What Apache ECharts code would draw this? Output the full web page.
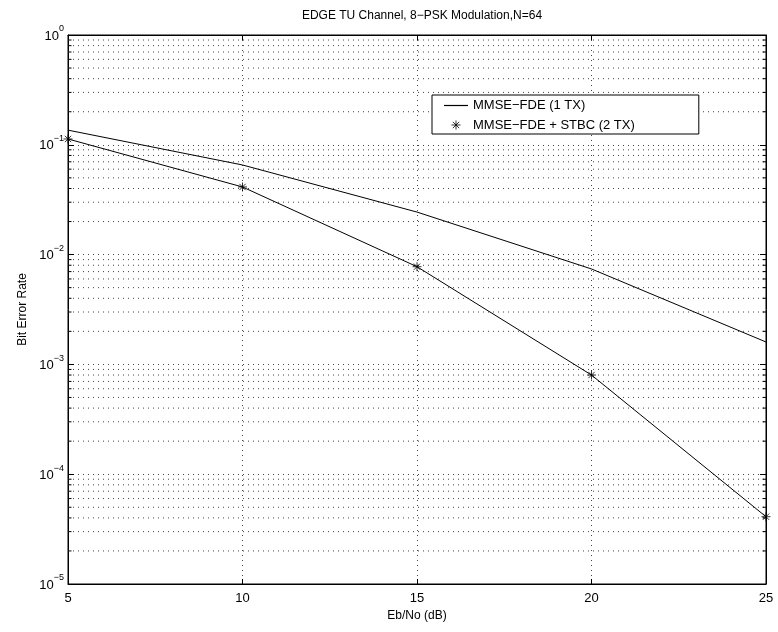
<!DOCTYPE html>
<html><head><meta charset="utf-8">
<script src="https://cdn.jsdelivr.net/npm/echarts@6/dist/echarts.min.js"></script>
<style>html,body{margin:0;padding:0;background:#fff}#c{width:778px;height:632px}</style>
</head><body><div id="c"></div>
<script>
const ebno = [5, 10, 15, 20, 25];
const berFde = [0.136, 0.0655, 0.0244, 0.0074, 0.0016];
const berStbc = [0.113, 0.0413, 0.00776, 0.0008, 4.1e-5];
const decades = [1e-5, 1e-4, 1e-3, 1e-2, 1e-1];
const minorMultipliers = [2, 3, 4, 5, 6, 7, 8, 9];
const xRange = [5, 25];
const minorTickLen = 0.1;
const minorGrid = [];
for (const d of decades) for (const m of minorMultipliers) minorGrid.push(+(d * m).toPrecision(3));

const FONT = 'Liberation Sans';
const dotted = {color: '#444', width: 1, type: [1, 4]};
const solid = {color: '#000', width: 1};
const star = 'path://M0,-5L0,5M-5,0L5,0M-3.5,-3.5L3.5,3.5M-3.5,3.5L3.5,-3.5';

const decor = [];
for (const v of minorGrid) {
  decor.push({type: 'line', silent: true, symbol: 'none', z: 1,
    data: [[xRange[0], v], [xRange[1], v]], lineStyle: dotted});
  decor.push({type: 'line', silent: true, symbol: 'none', z: 2,
    data: [[xRange[0], v], [xRange[0] + minorTickLen, v]], lineStyle: solid});
  decor.push({type: 'line', silent: true, symbol: 'none', z: 2,
    data: [[xRange[1] - minorTickLen, v], [xRange[1], v]], lineStyle: solid});
}

const chart = echarts.init(document.getElementById('c'), null, {renderer: 'canvas'});
chart.setOption({
  animation: false,
  backgroundColor: '#fff',
  textStyle: {fontFamily: FONT},
  title: {text: 'EDGE TU Channel, 8−PSK Modulation,N=64', left: 417, textAlign: 'center', top: 5,
    textStyle: {fontFamily: FONT, fontSize: 12, fontWeight: 'normal', color: '#000'}},
  grid: {left: 68, right: 12, top: 35, bottom: 48, containLabel: false,
    show: true, borderColor: '#000', borderWidth: 1},
  legend: {
    left: 432, top: 95, width: 266, orient: 'vertical', itemGap: 6,
    padding: [4, 64, 2, 12], borderColor: '#000', borderWidth: 1, backgroundColor: '#fff',
    itemWidth: 24, itemHeight: 9,
    textStyle: {fontFamily: FONT, fontSize: 13, color: '#000'},
    data: [
      {name: 'MMSE−FDE (1 TX)', icon: 'path://M0,0L40,0L40,2L0,2Z', itemStyle: {color: '#000'}},
      {name: 'MMSE−FDE + STBC (2 TX)', icon: star,
       itemStyle: {color: 'none', borderColor: '#000', borderWidth: 1}}
    ]
  },
  xAxis: [{
    type: 'value', min: 5, max: 25, interval: 5, position: 'bottom',
    name: 'Eb/No (dB)', nameLocation: 'middle', nameGap: 22,
    nameTextStyle: {fontFamily: FONT, fontSize: 12, color: '#000'},
    axisLine: {show: true, lineStyle: {color: '#000'}},
    axisTick: {show: true, inside: true, length: 5, lineStyle: {color: '#000'}},
    axisLabel: {fontFamily: FONT, fontSize: 13, color: '#000', margin: 8},
    splitLine: {show: true, lineStyle: dotted}
  }, {
    type: 'value', min: 5, max: 25, interval: 5, position: 'top',
    axisLine: {show: true, lineStyle: {color: '#000'}},
    axisTick: {show: true, inside: true, length: 5, lineStyle: {color: '#000'}},
    axisLabel: {show: false}, splitLine: {show: false}
  }],
  yAxis: [{
    type: 'log', logBase: 10, min: 1e-5, max: 1, position: 'left',
    name: 'Bit Error Rate', nameLocation: 'middle', nameGap: 30, nameRotate: 90,
    nameTextStyle: {fontFamily: FONT, fontSize: 12, color: '#000'},
    axisLine: {show: true, lineStyle: {color: '#000'}},
    axisTick: {show: true, inside: true, length: 6, lineStyle: {color: '#000'}},
    axisLabel: {
      margin: 4, color: '#000',
      formatter: v => { const e = Math.round(Math.log10(v)); return '{b|10}{s|' + (e === 0 ? '0' : '−' + (-e)) + '}'; },
      rich: {b: {fontFamily: FONT, fontSize: 13, color: '#000', padding: [2, 0, 0, 0]},
             s: {fontFamily: FONT, fontSize: 9, color: '#000', padding: [0, 0, 12, 0]}}
    },
    splitLine: {show: true, lineStyle: dotted}
  }, {
    type: 'log', logBase: 10, min: 1e-5, max: 1, position: 'right',
    axisLine: {show: true, lineStyle: {color: '#000'}},
    axisTick: {show: true, inside: true, length: 6, lineStyle: {color: '#000'}},
    axisLabel: {show: false}, splitLine: {show: false}
  }],
  series: decor.concat([{
    name: 'MMSE−FDE (1 TX)', type: 'line', symbol: 'none', z: 3,
    data: ebno.map((x, i) => [x, berFde[i]]),
    lineStyle: {color: '#000', width: 1}, itemStyle: {color: '#000'}
  }, {
    name: 'stbc-line', type: 'line', symbol: 'none', z: 3,
    data: ebno.map((x, i) => [x, berStbc[i]]),
    lineStyle: {color: '#000', width: 1}
  }, {
    name: 'MMSE−FDE + STBC (2 TX)', type: 'scatter', symbol: star, symbolSize: 9,
    data: ebno.map((x, i) => [x, berStbc[i]]),
    itemStyle: {color: 'none', borderColor: '#000', borderWidth: 1}, z: 5
  }])
});
</script></body></html>
